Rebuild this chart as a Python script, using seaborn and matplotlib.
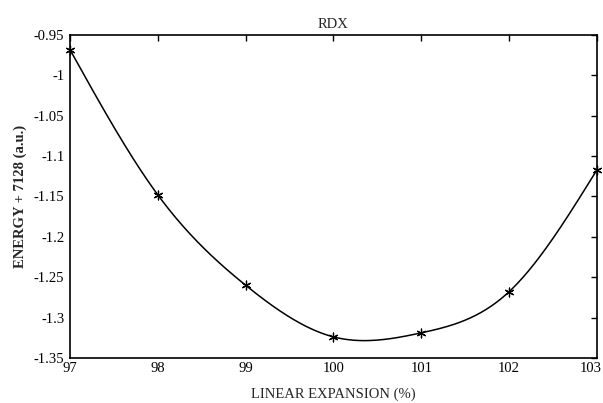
import numpy as np
import matplotlib
matplotlib.use("Agg")
import matplotlib.pyplot as plt
import matplotlib.transforms as mtransforms
import seaborn as sns
import pandas as pd

expansion = [97, 98, 99, 100, 101, 102, 103]
energy = [-0.968, -1.148, -1.260, -1.324, -1.319, -1.268, -1.117]
x_ticks = [97, 98, 99, 100, 101, 102, 103]
y_ticks = [-0.95, -1.0, -1.05, -1.1, -1.15, -1.2, -1.25, -1.3, -1.35]
y_tick_labels = ["-0.95", "-1", "-1.05", "-1.1", "-1.15", "-1.2", "-1.25", "-1.3", "-1.35"]


def natural_spline(x, y, xs):
    x = np.asarray(x, float); y = np.asarray(y, float)
    n = len(x)
    h = np.diff(x)
    A = np.zeros((n, n)); b = np.zeros(n)
    A[0, 0] = 1; A[-1, -1] = 1
    for i in range(1, n - 1):
        A[i, i - 1] = h[i - 1]
        A[i, i] = 2 * (h[i - 1] + h[i])
        A[i, i + 1] = h[i]
        b[i] = 3 * ((y[i + 1] - y[i]) / h[i] - (y[i] - y[i - 1]) / h[i - 1])
    c = np.linalg.solve(A, b)
    out = np.empty_like(xs)
    for k, xv in enumerate(xs):
        i = min(max(np.searchsorted(x, xv) - 1, 0), n - 2)
        bi = (y[i + 1] - y[i]) / h[i] - h[i] * (2 * c[i] + c[i + 1]) / 3
        di = (c[i + 1] - c[i]) / (3 * h[i])
        t = xv - x[i]
        out[k] = y[i] + bi * t + c[i] * t ** 2 + di * t ** 3
    return out


sns.set_theme(style="white")
plt.rcParams['font.family'] = ['Liberation Serif', 'DejaVu Serif']

fig = plt.figure(figsize=(6.03, 4.03), dpi=100)
ax = fig.add_axes([0.116, 0.112, 0.874, 0.801])

xs = np.linspace(expansion[0], expansion[-1], 300)
curve = pd.DataFrame({"x": xs, "y": natural_spline(expansion, energy, xs)})
pts = pd.DataFrame({"x": expansion, "y": energy})

sns.lineplot(data=curve, x="x", y="y", ax=ax, color="black", linewidth=1.1)
sns.scatterplot(data=pts, x="x", y="y", ax=ax, marker=(6, 2, 0), color="black",
                s=40, linewidth=0.9, edgecolor="black", clip_on=False, zorder=5)

ax.set_xlim(97, 103)
ax.set_ylim(-1.35, -0.95)
ax.set_xticks(x_ticks)
ax.set_xticklabels([str(v) for v in x_ticks])
ax.set_yticks(y_ticks)
ax.set_yticklabels(y_tick_labels)
ax.tick_params(direction="in", top=True, right=True, length=4, width=1,
               labelsize=10.5, colors="black", pad=3)
ax.tick_params(axis="y", pad=4)
for s in ax.spines.values():
    s.set_color("black")
    s.set_linewidth(1.2)

# nudge the last x tick label inward so it stays inside the canvas
last = ax.get_xticklabels()[-1]
last.set_transform(last.get_transform() +
                   mtransforms.ScaledTranslation(-6 / 100, 0, fig.dpi_scale_trans))

ax.set_xlabel("LINEAR EXPANSION (%)", fontsize=10.5, labelpad=9)
ax.set_ylabel("ENERGY + 7128 (a.u.)", fontsize=10.5, fontweight="bold", labelpad=5)
ax.set_title("RDX", fontsize=10.5, pad=5)

fig.savefig("out.png", dpi=100, facecolor="white")
